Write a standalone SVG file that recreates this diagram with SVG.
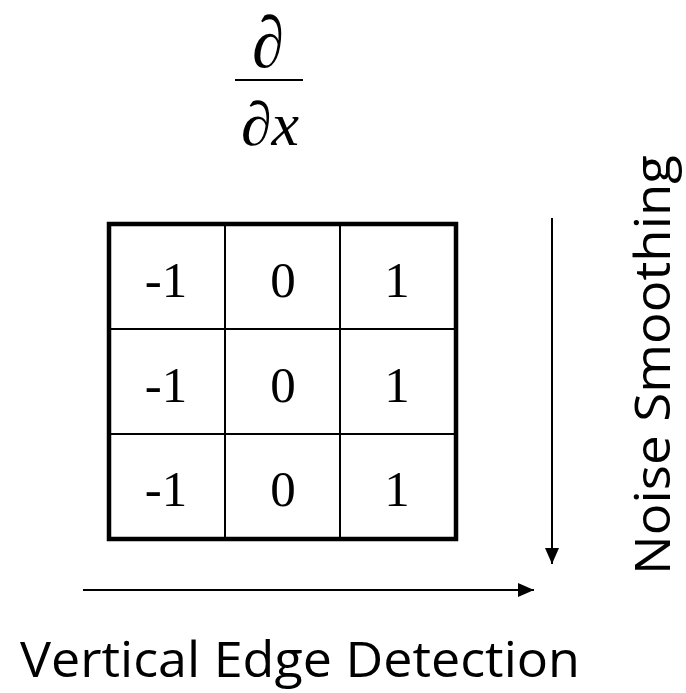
<svg xmlns="http://www.w3.org/2000/svg" width="686" height="693" viewBox="0 0 686 693">
<style>
.num{font-family:"Liberation Serif","Times New Roman",serif;font-size:51px;fill:#000;text-anchor:middle}
.lbl{font-family:"Open Sans","Noto Sans",sans-serif;font-size:49px;fill:#000}
.math{font-family:"Liberation Serif","Times New Roman",serif;font-style:italic;fill:#000}
.thin{stroke:#000;stroke-width:2;fill:none}
</style>
<defs>
<marker id="ah2" viewBox="0 0 16 14" refX="16" refY="7" markerWidth="16" markerHeight="14" orient="auto" markerUnits="userSpaceOnUse">
<path d="M0,0 L16,7 L0,14 Z" fill="#000"/>
</marker>
</defs>
<rect width="686" height="693" fill="#fff"/>
<g id="derivative">
<text class="math" transform="translate(268,67) scale(1,1.14)" x="0" y="0" font-size="64" text-anchor="middle">∂</text>
<line x1="235" y1="80" x2="303" y2="80" stroke="#000" stroke-width="2"/>
<text class="math" x="270" y="145" font-size="62" text-anchor="middle">∂x</text>
</g>
<g id="kernel">
<line class="thin" x1="225" y1="225" x2="225" y2="538"/>
<line class="thin" x1="340" y1="225" x2="340" y2="538"/>
<line class="thin" x1="111" y1="329" x2="455" y2="329"/>
<line class="thin" x1="111" y1="434" x2="455" y2="434"/>
<rect x="109" y="224" width="347" height="315" fill="none" stroke="#000" stroke-width="4.5"/>
<text class="num" x="166" y="297">-1</text>
<text class="num" x="283" y="297">0</text>
<text class="num" x="397" y="297">1</text>
<text class="num" x="166" y="402">-1</text>
<text class="num" x="283" y="402">0</text>
<text class="num" x="397" y="402">1</text>
<text class="num" x="166" y="506">-1</text>
<text class="num" x="283" y="506">0</text>
<text class="num" x="397" y="506">1</text>
</g>
<g id="connectors">
<line x1="552" y1="218" x2="552" y2="564" stroke="#000" stroke-width="2" marker-end="url(#ah2)"/>
<line x1="83" y1="590" x2="534" y2="590" stroke="#000" stroke-width="2" marker-end="url(#ah2)"/>
</g>
<g id="label-vertical">
<text class="lbl" x="20" y="677" textLength="560" lengthAdjust="spacingAndGlyphs">Vertical Edge Detection</text>
</g>
<g id="label-noise">
<text class="lbl" transform="translate(670,575) rotate(-90)" x="0" y="0" textLength="420" lengthAdjust="spacingAndGlyphs">Noise Smoothing</text>
</g>
</svg>
